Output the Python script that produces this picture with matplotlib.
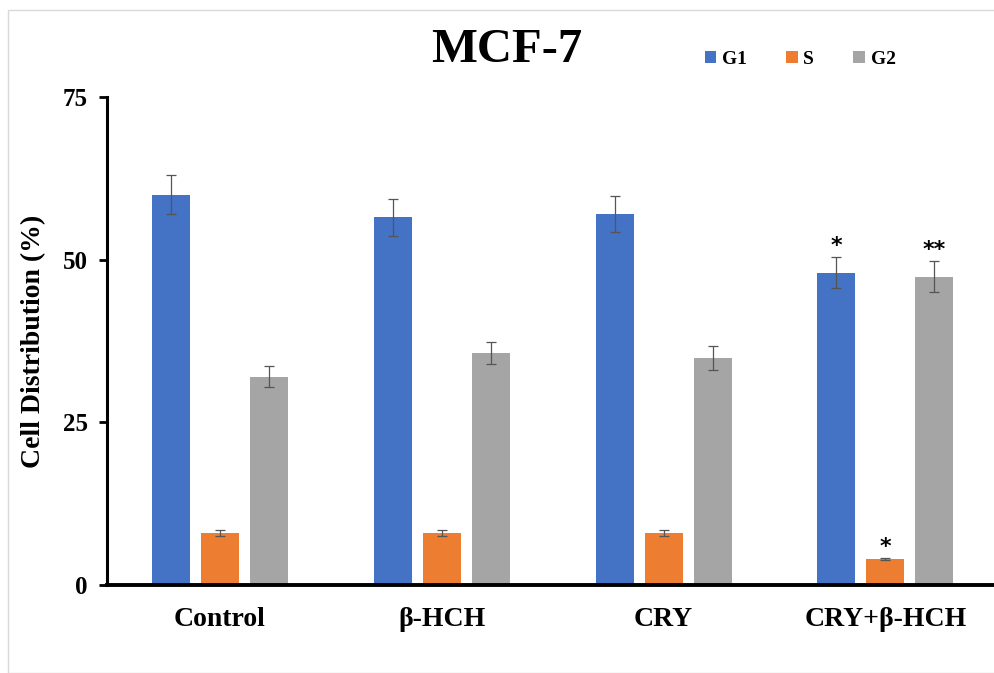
import matplotlib
matplotlib.use("Agg")
import matplotlib.pyplot as plt
import numpy as np
from matplotlib.patches import Rectangle

categories = ["Control", "β-HCH", "CRY", "CRY+β-HCH"]
series = ["G1", "S", "G2"]
g1 = [60.0, 56.5, 57.0, 48.0]
s = [8.0, 8.0, 8.0, 4.0]
g2 = [32.0, 35.7, 34.9, 47.4]
g1_err = [3.0, 2.8, 2.8, 2.4]
s_err = [0.4, 0.4, 0.4, 0.2]
g2_err = [1.6, 1.7, 1.8, 2.4]
g1_sig = ["", "", "", "*"]
s_sig = ["", "", "", "*"]
g2_sig = ["", "", "", "**"]
yticks = [0, 25, 50, 75]

colors = ["#4472C4", "#ED7D31", "#A5A5A5"]
plt.rcParams['font.family'] = ['Liberation Serif', 'DejaVu Serif']
plt.rcParams['font.weight'] = 'bold'

fig = plt.figure(figsize=(9.94, 6.73), dpi=100)
ax = fig.add_axes([0.1076, 0.1308, 0.8924, 0.7251])

x = np.arange(len(categories))
width = 0.171
offsets = [-0.221, 0.0, 0.221]
vals = [g1, s, g2]
errs = [g1_err, s_err, g2_err]
sigs = [g1_sig, s_sig, g2_sig]
for i in range(3):
    ax.bar(x + offsets[i], vals[i], width, color=colors[i], label=series[i],
           yerr=errs[i], error_kw=dict(ecolor="#555555", elinewidth=0.9, capsize=3.5, capthick=0.9),
           zorder=2)
    for j in range(len(categories)):
        if sigs[i][j]:
            ax.text(x[j] + offsets[i], vals[i][j] + errs[i][j] + 0.1, sigs[i][j],
                    ha='center', va='bottom', fontsize=16, fontweight='bold',
                    family=['DejaVu Sans'])

ax.set_xlim(-0.51, 3.49)
ax.set_ylim(0, 75)
ax.set_yticks(yticks)
ax.set_yticklabels([str(t) for t in yticks], fontsize=18, fontweight='bold')
ax.set_xticks(x)
ax.set_xticklabels(categories, fontsize=20, fontweight='bold')
ax.tick_params(axis='x', length=0, pad=16)
ax.tick_params(axis='y', length=6, width=2, direction='out', pad=8)
for sp in ['top', 'right']:
    ax.spines[sp].set_visible(False)
ax.spines['left'].set_linewidth(2.2)
ax.spines['bottom'].set_linewidth(2.8)
ax.set_ylabel("Cell Distribution (%)", fontsize=20, fontweight='bold', labelpad=12)

fig.text(0.51, 0.925, "MCF-7", ha='center', va='center', fontsize=35, fontweight='bold')

leg = fig.legend(loc='center', bbox_to_anchor=(0.805, 0.912), ncol=3, frameon=False,
                 prop=dict(family='Liberation Serif', weight='bold', size=14),
                 handlelength=0.6, handleheight=0.6, handletextpad=0.3, columnspacing=2.0)

fig.patches.append(Rectangle((8/994, 0), 1.0, 1 - 10/673, transform=fig.transFigure,
                             fill=False, edgecolor="#D9D9D9", linewidth=1.0))

fig.savefig("out.png", dpi=100)
